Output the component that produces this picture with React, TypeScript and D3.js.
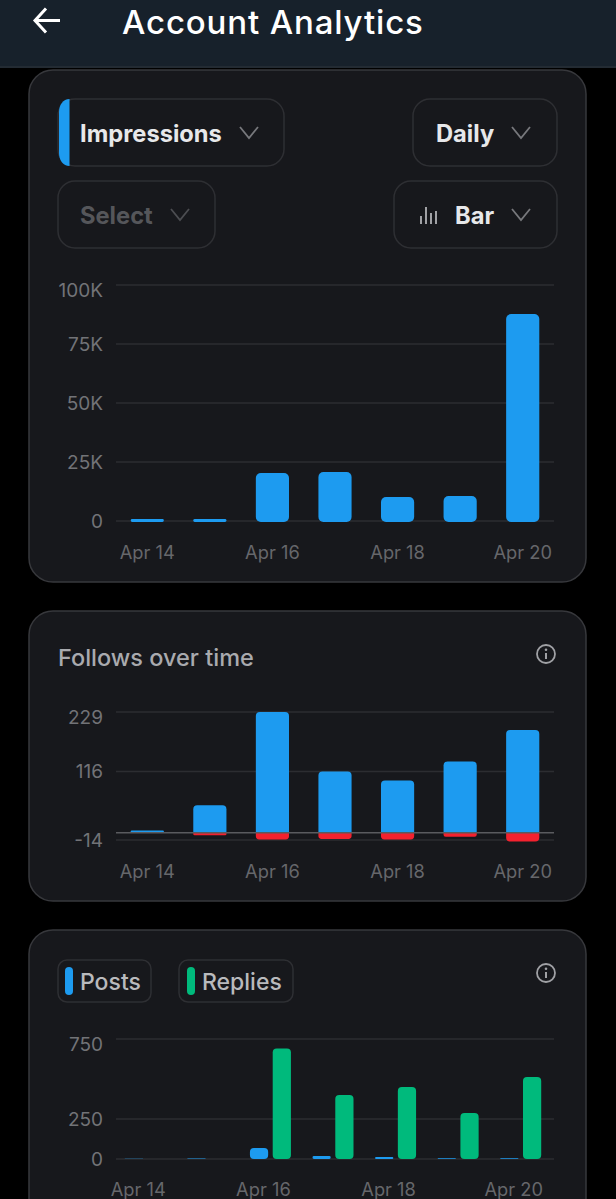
import React from "react";
import * as d3 from "d3";

const days = ["Apr 14", "Apr 15", "Apr 16", "Apr 17", "Apr 18", "Apr 19", "Apr 20"];
const labelledDays = ["Apr 14", "Apr 16", "Apr 18", "Apr 20"];

const impressions = [800, 800, 20300, 20800, 10200, 10600, 87700];
const impressionTicks = [0, 25000, 50000, 75000, 100000];
const impressionTickLabels = ["0", "25K", "50K", "75K", "100K"];

const followsGained = [4, 52, 229, 116, 99, 135, 195];
const followsLost = [0, -5, -13, -12, -13, -8, -17];
const followTicks = [-14, 116, 229];

const posts = [1, 3, 68, 18, 12, 5, 5];
const replies = [0, 0, 690, 400, 450, 288, 512];
const activityTicks = [0, 250, 750];

const BLUE = "#1d9bf0";
const RED = "#f4212e";
const GREEN = "#00ba7c";
const CARD = "#17181c";
const CARD_BORDER = "#37383c";
const CONTROL_BORDER = "#2e2f33";
const GRID = "#2c2d31";
const TICK = "#727377";
const FONT = "Inter, sans-serif";

const plotLeft = 116;
const plotRight = 554;

// bar with optional rounded ends, top/bottom in pixels
function barPath(x: number, w: number, top: number, bottom: number, r: number, roundTop: boolean, roundBottom: boolean) {
  const h = bottom - top;
  const rad = Math.min(r, h / 2, w / 2);
  const rt = roundTop ? rad : 0;
  const rb = roundBottom ? rad : 0;
  const p = d3.path();
  p.moveTo(x + rt, top);
  p.lineTo(x + w - rt, top);
  if (rt) p.arcTo(x + w, top, x + w, top + rt, rt);
  p.lineTo(x + w, bottom - rb);
  if (rb) p.arcTo(x + w, bottom, x + w - rb, bottom, rb);
  p.lineTo(x + rb, bottom);
  if (rb) p.arcTo(x, bottom, x, bottom - rb, rb);
  p.lineTo(x, top + rt);
  if (rt) p.arcTo(x, top, x + rt, top, rt);
  p.closePath();
  return p.toString();
}

const Chevron = ({ x, y, color = "#77787c" }: { x: number; y: number; color?: string }) => (
  <path d={`M${x - 9},${y - 6} L${x},${y + 5} L${x + 9},${y - 6}`} fill="none" stroke={color} strokeWidth={1.8} />
);

const Dropdown = ({ x, y, w, label, textX, color = "#e7e8ea", chevronX, chevronColor }: any) => (
  <g>
    <rect x={x} y={y} width={w} height={67} rx={17} fill={CARD} stroke={CONTROL_BORDER} strokeWidth={1.5} />
    <text x={textX} y={y + 42.5} fontFamily={FONT} fontSize={23.7} fontWeight={700} fill={color}>
      {label}
    </text>
    <Chevron x={chevronX} y={y + 34} color={chevronColor} />
  </g>
);

const InfoIcon = ({ x, y }: { x: number; y: number }) => (
  <g>
    <circle cx={x} cy={y} r={9} fill="none" stroke="#a0a1a5" strokeWidth={1.8} />
    <line x1={x} x2={x} y1={y - 1} y2={y + 5} stroke="#a0a1a5" strokeWidth={2} />
    <circle cx={x} cy={y - 4.2} r={1.3} fill="#a0a1a5" />
  </g>
);

// the top tick label sits a little below its grid line
const YTicks = ({ ticks, labels, y }: { ticks: number[]; labels?: string[]; y: d3.ScaleLinear<number, number> }) => (
  <g>
    {ticks.map((t, i) => (
      <g key={t}>
        <line x1={plotLeft} x2={plotRight} y1={y(t)} y2={y(t)} stroke={GRID} strokeWidth={1.6} />
        <text
          x={103}
          y={y(t) + (i === ticks.length - 1 ? 5 : 0)}
          dy="0.36em"
          textAnchor="end"
          fontFamily={FONT}
          fontSize={19}
          fill={TICK}
        >
          {labels ? labels[i] : t}
        </text>
      </g>
    ))}
  </g>
);

const XLabels = ({ x, y, shift = 0 }: { x: d3.ScaleBand<string>; y: number; shift?: number }) => (
  <g>
    {labelledDays.map((d) => (
      <text key={d} x={x(d)! + x.bandwidth() / 2 + shift} y={y} textAnchor="middle" fontFamily={FONT} fontSize={18.3} fill="#66676b">
        {d}
      </text>
    ))}
  </g>
);

export default function App() {
  const x = d3.scaleBand<string>().domain(days).range([plotLeft, plotRight]).paddingInner(0.47).paddingOuter(0.235);

  const yImpr = d3.scaleLinear().domain([0, 100000]).range([521, 285]);
  const yFollows = d3.scaleLinear().domain([-14, 229]).range([840, 712]);
  const yActivity = d3.scaleLinear().domain([0, 750]).range([1159, 1039]);

  // grouped bars of the last chart sit slightly left of the other two
  const xGroup = d3.scaleBand<string>().domain(days).range([plotLeft - 2, plotRight - 2]);
  const xSeries = d3.scaleBand<string>().domain(["posts", "replies"]).range([0, 41]).paddingInner(0.2);
  const groupLeft = (d: string) => xGroup(d)! + xGroup.bandwidth() / 2 - 20.5;

  return (
    <svg width={616} height={1199} viewBox="0 0 616 1199" style={{ position: "absolute", left: 0, top: 0, display: "block" }}>
      <rect width={616} height={1199} fill="#000" />

      {/* Header */}
      <rect width={616} height={66} fill="#17212b" />
      <line x1={0} x2={616} y1={67} y2={67} stroke="#2f3a45" strokeWidth={1.5} />
      <path d="M60,20.5 L36,20.5 M46,8.5 L35,20.5 L46,32.5" fill="none" stroke="#fff" strokeWidth={3} />
      <text x={122} y={34} fontFamily={FONT} fontSize={33} fontWeight={500} letterSpacing={0.85} fill="#fff">
        Account Analytics
      </text>

      {/* Impressions card */}
      <rect x={29} y={70} width={557} height={512} rx={24} fill={CARD} stroke={CARD_BORDER} strokeWidth={1.5} />
      <Dropdown x={58} y={99} w={226} label="Impressions" textX={80} chevronX={249} />
      <path d="M69.5,99 L69.5,166 C63,166 59,160 59,153 L59,112 C59,105 63,99 69.5,99 Z" fill={BLUE} />
      <Dropdown x={413} y={99} w={144} label="Daily" textX={436} chevronX={521} />
      <Dropdown x={58} y={181} w={157} label="Select" textX={80} color="#55565a" chevronX={180} chevronColor="#4c4d51" />
      <Dropdown x={394} y={181} w={163} label="Bar" textX={455} chevronX={521} />
      <path d="M421,224 V216 M426,224 V207 M431,224 V213 M436,224 V211" stroke="#c4c5c8" strokeWidth={1.6} fill="none" />

      <YTicks ticks={impressionTicks} labels={impressionTickLabels} y={yImpr} />
      {days.map((d, i) => (
        <path key={d} d={barPath(x(d)!, x.bandwidth(), yImpr(impressions[i]), yImpr(0) + 1, 5, true, true)} fill={BLUE} />
      ))}
      <XLabels x={x} y={559} />

      {/* Follows card */}
      <rect x={29} y={611} width={557} height={290} rx={24} fill={CARD} stroke={CARD_BORDER} strokeWidth={1.5} />
      <text x={58} y={666} fontFamily={FONT} fontSize={23.5} fontWeight={500} fill="#a9aaae">
        Follows over time
      </text>
      <InfoIcon x={546} y={654} />

      <YTicks ticks={followTicks} y={yFollows} />
      {days.map((d, i) => (
        <path key={d} d={barPath(x(d)!, x.bandwidth(), yFollows(followsGained[i]), yFollows(0), 4, true, false)} fill={BLUE} />
      ))}
      {days.map((d, i) =>
        followsLost[i] < 0 ? (
          <path key={d} d={barPath(x(d)!, x.bandwidth(), yFollows(0), yFollows(followsLost[i]), 4, false, true)} fill={RED} />
        ) : null
      )}
      <line x1={plotLeft} x2={plotRight} y1={yFollows(0)} y2={yFollows(0)} stroke="#5a5b5f" strokeWidth={1.5} />
      <XLabels x={x} y={878} />

      {/* Posts / replies card, cut off by the bottom of the page */}
      <rect x={29} y={930} width={557} height={300} rx={24} fill={CARD} stroke={CARD_BORDER} strokeWidth={1.5} />
      <rect x={58} y={960} width={93} height={42} rx={9} fill={CARD} stroke={CONTROL_BORDER} strokeWidth={1.5} />
      <rect x={65} y={967} width={8} height={28} rx={4} fill={BLUE} />
      <text x={80} y={989.5} fontFamily={FONT} fontSize={23} fontWeight={500} fill="#b9babd">
        Posts
      </text>
      <rect x={179} y={960} width={114} height={42} rx={9} fill={CARD} stroke={CONTROL_BORDER} strokeWidth={1.5} />
      <rect x={187} y={967} width={8} height={28} rx={4} fill={GREEN} />
      <text x={202} y={989.5} fontFamily={FONT} fontSize={23} fontWeight={500} fill="#b9babd">
        Replies
      </text>
      <InfoIcon x={546} y={973} />

      <YTicks ticks={activityTicks} y={yActivity} />
      {days.map((d, i) => (
        <g key={d} transform={`translate(${groupLeft(d)},0)`}>
          <path d={barPath(xSeries("posts")!, xSeries.bandwidth(), yActivity(posts[i]), yActivity(0), 4, true, true)} fill={BLUE} />
          {replies[i] > 0 && (
            <path d={barPath(xSeries("replies")!, xSeries.bandwidth(), yActivity(replies[i]), yActivity(0), 4, true, true)} fill={GREEN} />
          )}
        </g>
      ))}
      <XLabels x={x} y={1196} shift={-9} />
    </svg>
  );
}
